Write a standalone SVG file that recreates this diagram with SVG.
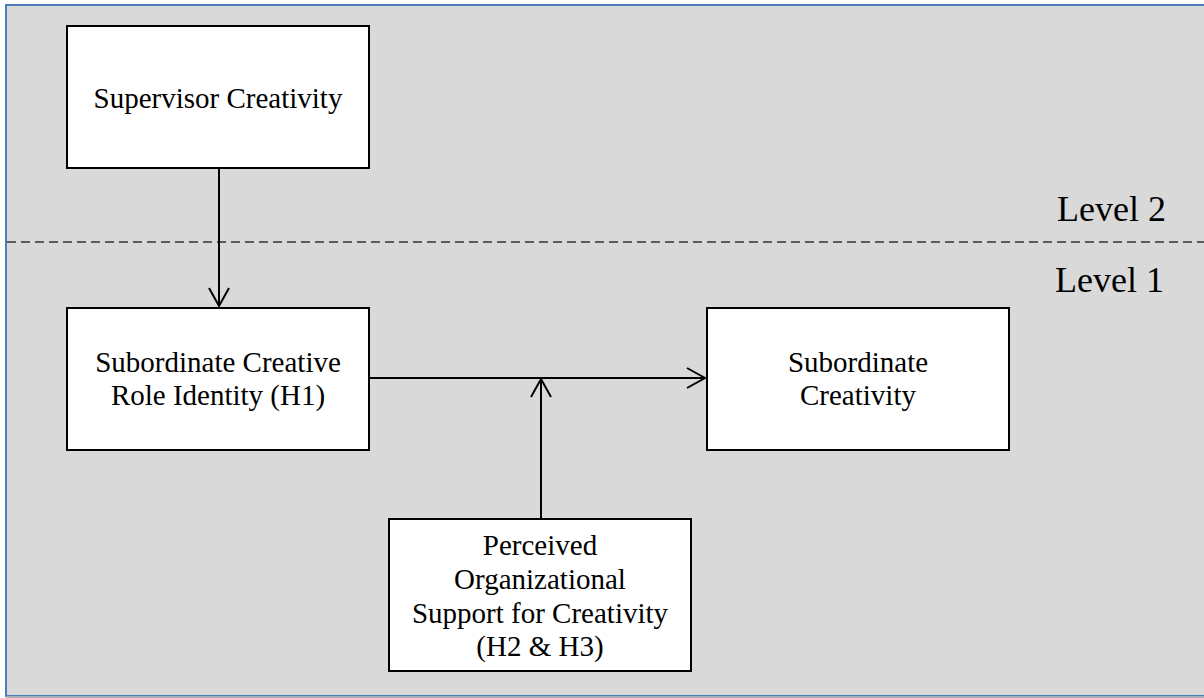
<svg xmlns="http://www.w3.org/2000/svg" width="1204" height="698" viewBox="0 0 1204 698">
<style>
.box{fill:#ffffff;stroke:#000000;stroke-width:2}
.t{font-family:"Liberation Serif","Times New Roman",serif;font-size:29px;fill:#000000;text-anchor:middle}
.lvl{font-family:"Liberation Serif","Times New Roman",serif;font-size:36px;fill:#000000}
.c{fill:none;stroke:#000000;stroke-width:2}
</style>
<rect x="6" y="5" width="1210" height="691" fill="#d9d9d9" stroke="#4a7ebb" stroke-width="2"/>
<line x1="6" y1="697" x2="1204" y2="697" stroke="#a6aeb6" stroke-width="2"/>
<line x1="7" y1="242" x2="1204" y2="242" stroke="#333333" stroke-width="1.3" stroke-dasharray="9,5"/>
<text class="lvl" x="1057" y="221">Level 2</text>
<text class="lvl" x="1055" y="292">Level 1</text>
<g id="supervisor-creativity">
<rect class="box" x="67" y="26" width="302" height="142"/>
<text class="t" x="218" y="108">Supervisor Creativity</text>
</g>
<g id="subordinate-role-identity">
<rect class="box" x="67" y="308" width="302" height="142"/>
<text class="t" x="218" y="372">Subordinate Creative</text>
<text class="t" x="218" y="405">Role Identity (H1)</text>
</g>
<g id="subordinate-creativity">
<rect class="box" x="707" y="308" width="302" height="142"/>
<text class="t" x="858" y="372">Subordinate</text>
<text class="t" x="858" y="405">Creativity</text>
</g>
<g id="perceived-support">
<rect class="box" x="389" y="519" width="302" height="152"/>
<text class="t" x="540" y="555">Perceived</text>
<text class="t" x="540" y="589">Organizational</text>
<text class="t" x="540" y="623">Support for Creativity</text>
<text class="t" x="540" y="656">(H2 &amp; H3)</text>
</g>
<g id="connectors">
<line class="c" x1="219" y1="168" x2="219" y2="306"/>
<polyline class="c" points="209,288 219,306 229,288"/>
<line class="c" x1="369" y1="378" x2="705" y2="378"/>
<polyline class="c" points="687,368 705,378 687,388"/>
<line class="c" x1="541" y1="519" x2="541" y2="379"/>
<polyline class="c" points="531,397 541,379 551,397"/>
</g>
</svg>
